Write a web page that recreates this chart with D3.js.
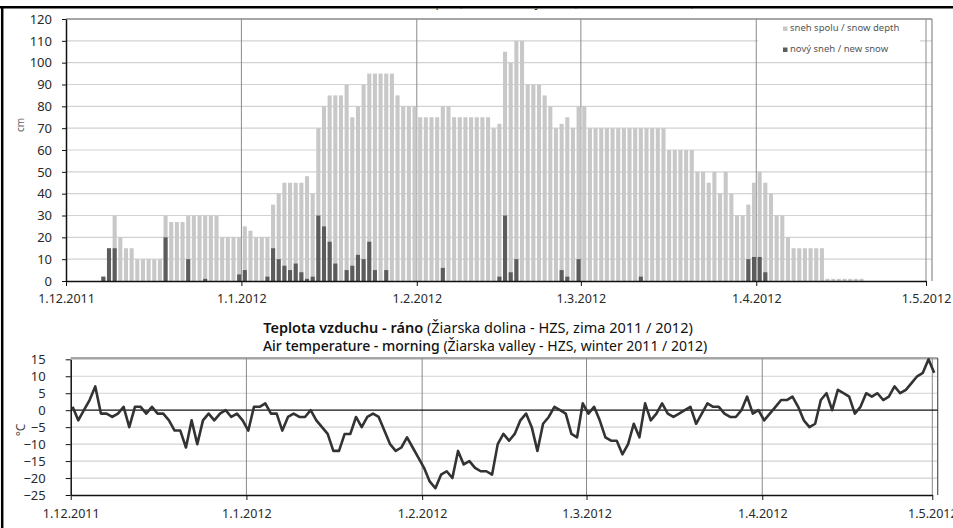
<!DOCTYPE html>
<html>
<head>
<meta charset="utf-8">
<script src="https://cdn.jsdelivr.net/npm/d3@7"></script>
<style>
  body { margin: 0; background: #fff; }
  svg { display: block; font-family: "Noto Sans", sans-serif; }
</style>
</head>
<body>
<div id="chart"></div>
<script>
// month tick labels shared by both panels
const xTickLabels = ["1.12.2011", "1.1.2012", "1.2.2012", "1.3.2012", "1.4.2012", "1.5.2012"];
const snowTicks = [0, 10, 20, 30, 40, 50, 60, 70, 80, 90, 100, 110, 120];
const tempTicks = [15, 10, 5, 0, -5, -10, -15, -20, -25];

// daily values from 1.12.2011 (cm)
const snowDepth = [
  0, 0, 0, 0, 0, 0, 2, 15, 30, 20, 15, 15, 10, 10, 10, 10, 10, 30, 27, 27,
  27, 30, 30, 30, 30, 30, 30, 20, 20, 20, 20, 25, 23, 20, 20, 20, 35, 40, 45, 45,
  45, 45, 48, 40, 70, 80, 85, 85, 85, 90, 75, 80, 90, 95, 95, 95, 95, 95, 85, 80,
  80, 80, 75, 75, 75, 75, 80, 80, 75, 75, 75, 75, 75, 75, 75, 70, 72, 105, 100, 110,
  110, 90, 90, 90, 85, 80, 70, 72, 75, 70, 80, 80, 70, 70, 70, 70, 70, 70, 70, 70,
  70, 70, 70, 70, 70, 70, 60, 60, 60, 60, 60, 50, 50, 45, 50, 40, 50, 40, 30, 30,
  35, 45, 50, 45, 40, 30, 30, 20, 15, 15, 15, 15, 15, 15, 1, 1, 1, 1, 1, 1,
  1, 0, 0, 0, 0, 0, 0, 0, 0, 0, 0, 0
];
const newSnow = [
  0, 0, 0, 0, 0, 0, 2, 15, 15, 0, 0, 0, 0, 0, 0, 0, 0, 20, 0, 0,
  0, 10, 0, 0, 1, 0, 0, 0, 0, 0, 3, 5, 0, 0, 0, 2, 15, 10, 7, 5,
  8, 4, 1, 2, 30, 25, 18, 8, 0, 5, 7, 12, 10, 18, 5, 0, 5, 0, 0, 0,
  0, 0, 0, 0, 0, 0, 6, 0, 0, 0, 0, 0, 0, 0, 0, 0, 2, 30, 4, 10,
  0, 0, 0, 0, 0, 0, 0, 5, 2, 0, 10, 0, 0, 0, 0, 0, 0, 0, 0, 0,
  0, 2, 0, 0, 0, 0, 0, 0, 0, 0, 0, 0, 0, 0, 0, 0, 0, 0, 0, 0,
  10, 11, 11, 4, 0, 0, 0, 0, 0, 0, 0, 0, 0, 0, 0, 0, 0, 0, 0, 0,
  0, 0, 0, 0, 0, 0, 0, 0, 0, 0, 0, 0
];
// morning air temperature from 1.12.2011 to 1.5.2012 (°C)
const temperature = [
  1, -3, 0, 3, 7, -1, -1, -2, -1, 1, -5, 1, 1, -1, 1, -1, -1, -3, -6, -6,
  -11, -3, -10, -3, -1, -3, -1, 0, -2, -1, -3, -6, 1, 1, 2, -1, -1, -6, -2, -1,
  -2, -2, 0, -3, -5, -7, -12, -12, -7, -7, -2, -5, -2, -1, -2, -6, -10, -12, -11, -8,
  -11, -14, -17, -21, -23, -19, -18, -20, -12, -16, -15, -17, -18, -18, -19, -10, -7, -9, -7, -3,
  -1, -5, -12, -4, -2, 1, 0, -1, -7, -8, 2, -1, 1, -3, -8, -9, -9, -13, -10, -4,
  -8, 2, -3, -1, 2, -1, -2, -1, 0, 1, -4, -1, 2, 1, 1, -1, -2, -2, 0, 4,
  -1, 0, -3, -1, 1, 3, 3, 4, 1, -3, -5, -4, 3, 5, 0, 6, 5, 4, -1, 1,
  5, 4, 5, 3, 4, 7, 5, 6, 8, 10, 11, 15, 11
];

const width = 953;
const height = 528;

const parseDay = d3.utcParse("%d.%m.%Y");
const tickDates = xTickLabels.map(parseDay);
const start = tickDates[0];
const end = tickDates[tickDates.length - 1];
const dayOf = i => d3.utcDay.offset(start, i);

const svg = d3.select("#chart")
  .append("svg")
  .attr("width", width)
  .attr("height", height);

// ---------- upper panel: snow ----------
const snowBox = { left: 66, right: 926, edge: 932, top: 19, bottom: 281 };

const xTop = d3.scaleUtc().domain([start, end]).range([snowBox.left, snowBox.right]);
const yTop = d3.scaleLinear().domain([0, 120]).range([snowBox.bottom, snowBox.top]);

// cut-off heading of the upper panel (only the descenders show)
svg.append("clipPath").attr("id", "headClip")
  .append("rect").attr("x", 0).attr("y", 8.5).attr("width", width).attr("height", 10);
svg.append("text")
  .attr("clip-path", "url(#headClip)")
  .attr("x", 540).attr("y", 7)
  .attr("text-anchor", "middle")
  .attr("font-size", 12.5)
  .attr("fill", "#222")
  .text("Snow depth (Žiarska valley - HZS, winter 2011 / 2012)");

const gTop = svg.append("g");

gTop.selectAll(".hgrid")
  .data(snowTicks.slice(1, -1))
  .join("line")
  .attr("x1", snowBox.left).attr("x2", snowBox.edge)
  .attr("y1", d => yTop(d)).attr("y2", d => yTop(d))
  .attr("stroke", "#d2d2d2").attr("stroke-width", 1.2);

gTop.append("line")
  .attr("x1", snowBox.left).attr("x2", snowBox.edge)
  .attr("y1", yTop(120)).attr("y2", yTop(120))
  .attr("stroke", "#8a8a8a").attr("stroke-width", 1.5);
gTop.append("line")
  .attr("x1", snowBox.edge).attr("x2", snowBox.edge)
  .attr("y1", yTop(120)).attr("y2", yTop(0))
  .attr("stroke", "#8a8a8a").attr("stroke-width", 1.2);

// legend backdrop hides gridlines
gTop.append("rect")
  .attr("x", 758).attr("y", 21).attr("width", 162).attr("height", 38)
  .attr("fill", "#fff");

gTop.selectAll(".vgrid")
  .data(tickDates.slice(1))
  .join("line")
  .attr("x1", d => xTop(d)).attr("x2", d => xTop(d))
  .attr("y1", yTop(120)).attr("y2", yTop(0))
  .attr("stroke", "#8a8a8a").attr("stroke-width", 1);

const dayW = xTop(dayOf(1)) - xTop(start);
const barW = dayW * 0.72;
const barX = i => xTop(dayOf(i)) + dayW * 0.6 - barW / 2;

gTop.selectAll(".depth")
  .data(snowDepth)
  .join("rect")
  .attr("class", "depth")
  .attr("x", (d, i) => barX(i))
  .attr("y", d => yTop(d))
  .attr("width", barW)
  .attr("height", d => yTop(0) - yTop(d))
  .attr("fill", "#c8c8c8");

gTop.selectAll(".fresh")
  .data(newSnow)
  .join("rect")
  .attr("class", "fresh")
  .attr("x", (d, i) => barX(i))
  .attr("y", d => yTop(d))
  .attr("width", barW)
  .attr("height", d => yTop(0) - yTop(d))
  .attr("fill", "#5c5c5c");

const styleAxis = (g, size) => {
  g.selectAll("text").attr("font-size", size).attr("fill", "#2a2a2a")
    .attr("font-family", "'Noto Sans', sans-serif");
  g.selectAll("line").attr("stroke", "#111");
  g.select(".domain").attr("stroke", "#111").attr("stroke-width", 1.5);
};

gTop.append("g")
  .attr("transform", `translate(${snowBox.left},0)`)
  .call(d3.axisLeft(yTop).tickValues(snowTicks).tickSizeInner(4).tickSizeOuter(0).tickPadding(10))
  .call(g => styleAxis(g, 13));

gTop.append("g")
  .attr("transform", `translate(0,${snowBox.bottom})`)
  .call(d3.axisBottom(xTop).tickValues(tickDates).tickFormat((d, i) => xTickLabels[i])
    .tickSizeInner(5).tickSizeOuter(0).tickPadding(8))
  .call(g => styleAxis(g, 12.5));

svg.append("text")
  .attr("transform", "translate(24,125) rotate(-90)")
  .attr("text-anchor", "middle")
  .attr("font-size", 10)
  .attr("fill", "#666")
  .text("cm");

// legend
const legendItems = [
  { label: "sneh spolu / snow depth", color: "#c8c8c8" },
  { label: "nový sneh / new snow", color: "#5c5c5c" }
];
const legend = svg.append("g").attr("transform", "translate(783,31)");
legend.selectAll("g")
  .data(legendItems)
  .join("g")
  .attr("transform", (d, i) => `translate(0,${i * 21})`)
  .each(function(d) {
    const g = d3.select(this);
    g.append("rect").attr("x", 0).attr("y", -4.5).attr("width", 4.5).attr("height", 4.5).attr("fill", d.color);
    g.append("text").attr("x", 7).attr("y", 0).attr("font-size", 9.5).attr("fill", "#555").text(d.label);
  });

// ---------- titles between panels ----------
const t1 = svg.append("text")
  .attr("x", 478).attr("y", 333)
  .attr("text-anchor", "middle")
  .attr("font-size", 14.5)
  .attr("fill", "#111");
t1.append("tspan").attr("font-weight", 600).text("Teplota vzduchu - ráno ");
t1.append("tspan").text("(Žiarska dolina - HZS, zima 2011 / 2012)");

const t2 = svg.append("text")
  .attr("x", 485).attr("y", 351)
  .attr("text-anchor", "middle")
  .attr("font-size", 14)
  .attr("fill", "#111");
t2.append("tspan").attr("font-weight", 500).text("Air temperature - morning ");
t2.append("tspan").text("(Žiarska valley - HZS, winter 2011 / 2012)");

// ---------- lower panel: temperature ----------
const tempBox = { left: 70.7, right: 932.3, edge: 937.7, top: 358, bottom: 495 };

const xBot = d3.scaleUtc().domain([start, end]).range([tempBox.left, tempBox.right]);
const yBot = d3.scaleLinear().domain([-25, 15]).range([tempBox.bottom, 359.3]);

const gBot = svg.append("g");

gBot.selectAll(".hgrid")
  .data(tempTicks.filter(d => d !== -25 && d !== 0))
  .join("line")
  .attr("x1", tempBox.left).attr("x2", tempBox.edge)
  .attr("y1", d => yBot(d)).attr("y2", d => yBot(d))
  .attr("stroke", "#d2d2d2").attr("stroke-width", 1.2);

gBot.append("line")
  .attr("x1", tempBox.left).attr("x2", tempBox.edge)
  .attr("y1", tempBox.top).attr("y2", tempBox.top)
  .attr("stroke", "#555").attr("stroke-width", 1.2);
gBot.append("line")
  .attr("x1", tempBox.edge).attr("x2", tempBox.edge)
  .attr("y1", tempBox.top).attr("y2", tempBox.bottom)
  .attr("stroke", "#555").attr("stroke-width", 1.2);

gBot.selectAll(".vgrid")
  .data(tickDates.slice(1))
  .join("line")
  .attr("x1", d => xBot(d)).attr("x2", d => xBot(d))
  .attr("y1", tempBox.top).attr("y2", tempBox.bottom)
  .attr("stroke", "#8a8a8a").attr("stroke-width", 1);

gBot.append("line")
  .attr("x1", tempBox.left).attr("x2", tempBox.edge)
  .attr("y1", yBot(0)).attr("y2", yBot(0))
  .attr("stroke", "#111").attr("stroke-width", 1.2);

const line = d3.line()
  .x((d, i) => xBot(d3.utcHour.offset(dayOf(i), 8)))
  .y(d => yBot(d));

gBot.append("path")
  .datum(temperature)
  .attr("d", line)
  .attr("fill", "none")
  .attr("stroke", "#333")
  .attr("stroke-width", 2.6)
  .attr("stroke-linejoin", "round");

gBot.append("g")
  .attr("transform", `translate(${tempBox.left},0)`)
  .call(d3.axisLeft(yBot).tickValues(tempTicks).tickSizeInner(5).tickSizeOuter(0).tickPadding(20))
  .call(g => styleAxis(g, 13));

gBot.append("g")
  .attr("transform", `translate(0,${tempBox.bottom})`)
  .call(d3.axisBottom(xBot).tickValues(tickDates).tickFormat((d, i) => xTickLabels[i])
    .tickSizeInner(5).tickSizeOuter(0).tickPadding(9))
  .call(g => styleAxis(g, 12.5));

svg.append("text")
  .attr("transform", "translate(25,430) rotate(-90)")
  .attr("text-anchor", "middle")
  .attr("font-size", 12)
  .attr("fill", "#444")
  .text("°C");

// ---------- outer frame ----------
svg.append("line")
  .attr("x1", 0).attr("x2", width).attr("y1", 7.3).attr("y2", 7.3)
  .attr("stroke", "#000").attr("stroke-width", 2.5);
svg.append("line")
  .attr("x1", 2.2).attr("x2", 2.2).attr("y1", 6).attr("y2", height)
  .attr("stroke", "#000").attr("stroke-width", 2.5);
</script>
</body>
</html>
